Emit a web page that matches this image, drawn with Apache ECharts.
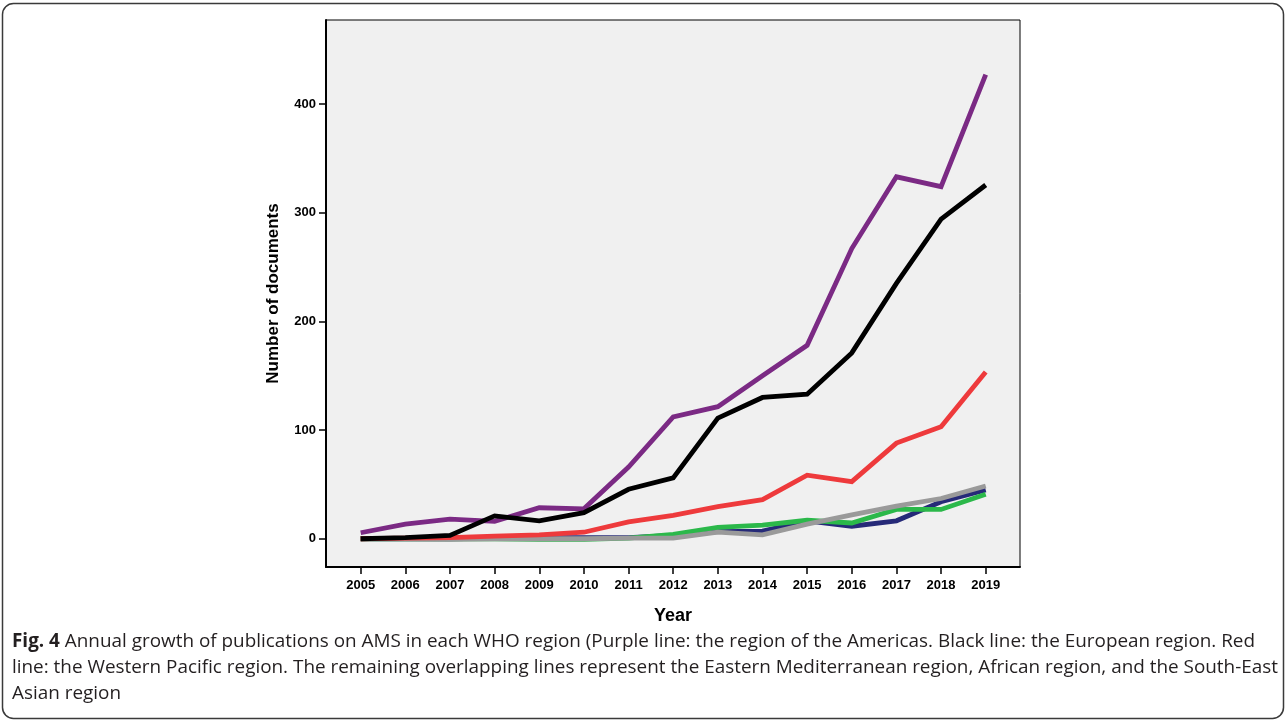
<!DOCTYPE html>
<html>
<head>
<meta charset="utf-8">
<title>Annual growth of publications on AMS by WHO region</title>
<script src="https://cdn.jsdelivr.net/npm/echarts@6/dist/echarts.min.js"></script>
<style>
  html, body { margin: 0; padding: 0; background: #ffffff; }
  #chart { width: 1287px; height: 724px; }
</style>
</head>
<body>
<div id="chart"></div>
<script>
// Publication years on the x axis
const years = [2005, 2006, 2007, 2008, 2009, 2010, 2011, 2012, 2013, 2014, 2015, 2016, 2017, 2018, 2019];

// Number of documents per year, one array per WHO region
const americas      = [5.5, 13.5, 18, 16, 28.5, 27.5, 66, 112, 121.5, 150, 178, 267, 333, 324, 427];
const europe        = [0, 1, 3, 21, 16.5, 24, 45.5, 56, 111, 130, 133, 171, 235, 294, 325.5];
const westPacific   = [0, 0.5, 1, 2.5, 3.5, 6, 15.5, 21.5, 29.5, 36, 58.5, 52.5, 88, 103, 153.5];
const southEastAsia = [0, 0, 0, 0.5, 1, 1, 1, 3, 6.5, 7, 16.5, 11.5, 16.5, 34, 45];
const eastMed       = [0, 0, 0, 0, -0.5, -0.5, 0.5, 4, 10.5, 12.5, 17, 14.5, 27, 27, 41];
const african       = [0, 0, -0.5, 0, 0, 0, 0.5, 0.5, 6, 3.5, 13.5, 22, 30, 37, 48.5];

// Tick labels
const yTicks = [0, 100, 200, 300, 400];
const xTicks = years;

const chart = echarts.init(document.getElementById('chart'), null, { renderer: 'canvas' });

function pairs(values) {
  return years.map((y, i) => [y, values[i]]);
}

function lineSeries(name, values, color, z) {
  return {
    name: name,
    type: 'line',
    data: pairs(values),
    showSymbol: false,
    symbol: 'none',
    z: z,
    lineStyle: { color: color, width: 4.8, cap: 'butt', join: 'miter' },
    emphasis: { disabled: true }
  };
}

const caption = [
  '{b|Fig. 4} Annual growth of publications on AMS in each WHO region (Purple line: the region of the Americas. Black line: the European region. Red',
  'line: the Western Pacific region. The remaining overlapping lines represent the Eastern Mediterranean region, African region, and the South-East',
  'Asian region'
];

const captionFont = { fontFamily: 'Open Sans', fontSize: 18.9, fill: '#231f20' };

const option = {
  animation: false,
  backgroundColor: '#ffffff',
  grid: {
    left: 326, top: 20, right: 267, bottom: 157,
    show: true,
    backgroundColor: '#f0f0f0',
    borderColor: '#000000',
    borderWidth: 1
  },
  xAxis: {
    type: 'value',
    min: 2004.223,
    max: 2019.768,
    name: 'Year',
    nameLocation: 'middle',
    nameGap: 40,
    nameTextStyle: { fontFamily: 'Liberation Sans', fontWeight: 'bold', fontSize: 18, color: '#000' },
    axisLine: { show: true, onZero: false, lineStyle: { color: '#000', width: 2 } },
    axisTick: { show: true, length: 7, customValues: xTicks, lineStyle: { color: '#000', width: 1.5 } },
    axisLabel: {
      customValues: xTicks,
      margin: 12,
      fontFamily: 'Liberation Sans', fontWeight: 'bold', fontSize: 13, color: '#000',
      formatter: v => String(Math.round(v))
    },
    splitLine: { show: false }
  },
  yAxis: {
    type: 'value',
    min: -26,
    max: 477.3,
    name: 'Number of documents',
    nameLocation: 'middle',
    nameGap: 44,
    nameRotate: 90,
    nameTextStyle: { fontFamily: 'Liberation Sans', fontWeight: 'bold', fontSize: 17, color: '#000' },
    axisLine: { show: true, onZero: false, lineStyle: { color: '#000', width: 2 } },
    axisTick: { show: true, length: 7, customValues: yTicks, lineStyle: { color: '#000', width: 1.5 } },
    axisLabel: {
      customValues: yTicks,
      margin: 10,
      fontFamily: 'Liberation Sans', fontWeight: 'bold', fontSize: 13, color: '#000'
    },
    splitLine: { show: false }
  },
  series: [
    lineSeries('South-East Asian region', southEastAsia, '#262a78', 2),
    lineSeries('Eastern Mediterranean region', eastMed, '#2bb84a', 3),
    lineSeries('African region', african, '#9a9a9a', 4),
    lineSeries('Western Pacific region', westPacific, '#ee3a3c', 5),
    lineSeries('Region of the Americas', americas, '#7b2a84', 6),
    lineSeries('European region', europe, '#000000', 7)
  ],
  graphic: [
    {
      type: 'rect',
      shape: { x: 2.5, y: 3.5, width: 1281, height: 715, r: 11 },
      style: { fill: 'none', stroke: '#3a3a3a', lineWidth: 1.5 },
      silent: true
    },
    {
      type: 'text', left: 12, top: 632,
      style: Object.assign({ text: caption[0], rich: { b: { fontWeight: 'bold', fontFamily: 'Open Sans', fontSize: 18.9, fill: '#231f20' } } }, captionFont)
    },
    {
      type: 'text', left: 12, top: 658,
      style: Object.assign({ text: caption[1] }, captionFont)
    },
    {
      type: 'text', left: 12, top: 684,
      style: Object.assign({ text: caption[2] }, captionFont)
    }
  ]
};

chart.setOption(option);
</script>
</body>
</html>
